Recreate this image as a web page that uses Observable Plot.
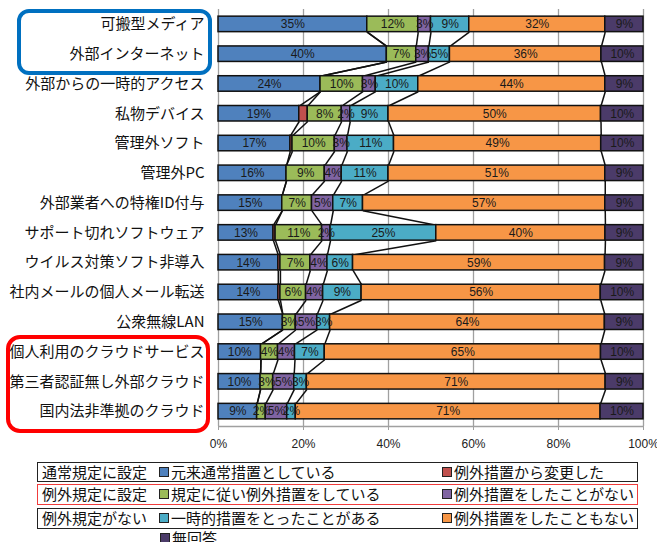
<!DOCTYPE html>
<html><head><meta charset="utf-8">
<script src="https://cdn.jsdelivr.net/npm/d3@7"></script>
<script src="https://cdn.jsdelivr.net/npm/@observablehq/plot@0.6"></script>
<style>
body{margin:0;background:#fff;font-family:"Noto Sans CJK JP",sans-serif;color:#111;}
#wrap{position:relative;width:657px;height:542px;overflow:hidden;}
#chart{position:absolute;left:0;top:0;}
.box{position:absolute;left:37px;width:601px;box-sizing:border-box;border:1.5px solid #222;font-size:15px;line-height:18px;}
.box span{position:absolute;top:0;white-space:nowrap;}
.sw{display:inline-block;width:8px;height:8px;border:1.3px solid #222;margin-right:2px;vertical-align:1px;}
.anno{position:absolute;box-sizing:border-box;background:transparent;}
</style></head><body>
<div id="wrap"><div id="chart"></div></div>
<script>
// ---- data ----
const categories = ["可搬型メディア","外部インターネット","外部からの一時的アクセス","私物デバイス","管理外ソフト","管理外PC","外部業者への特権ID付与","サポート切れソフトウェア","ウイルス対策ソフト非導入","社内メールの個人メール転送","公衆無線LAN","個人利用のクラウドサービス","第三者認証無し外部クラウド","国内法非準拠のクラウド"];
const seriesNames = ["元来通常措置としている","例外措置から変更した","規定に従い例外措置をしている","例外措置をしたことがない","一時的措置をとったことがある","例外措置をしたこともない","無回答"];
const seriesColors = ["#4F81BD","#C0504D","#9BBB59","#8064A2","#4BACC6","#F79646","#4B3B69"];
const original    = [35,40,24,19,17,16,15,13,14,14,15,10,10,9];
const changed     = [0,0,0,2,0.5,0,0,0.5,0.5,0.5,0,0,0,0];
const following   = [12,7,10,8,10,9,7,11,7,6,3,4,3,2];
const never       = [3,3,3,2,3,4,5,2,4,4,5,4,5,5];
const temporary   = [9,5,10,9,11,11,7,25,6,9,3,7,3,2];
const neverEither = [32,36,44,50,49,51,57,40,59,56,64,65,71,71];
const noAnswer    = [9,10,9,10,10,9,9,9,9,10,9,10,9,10];
const xTicks = [0,0.2,0.4,0.6,0.8,1];
const groupLabels = ["通常規定に設定","例外規定に設定","例外規定がない"];

// ---- build ----
const series = [original,changed,following,never,temporary,neverEither,noAnswer];
const segs = [];
const ends = []; // ends[i][k]
categories.forEach((c,i)=>{
  const total = d3.sum(series, s=>s[i]);
  let acc = 0; ends[i] = [];
  series.forEach((s,k)=>{
    const v = s[i];
    const x1 = acc/total; acc += v; const x2 = acc/total;
    ends[i][k] = x2;
    segs.push({i,k,v,x1,x2});
  });
});
const h = 0.26;
const links = [];
for (let k=0;k<6;k++) for (let i=0;i<categories.length-1;i++)
  links.push({k, x1: ends[i][k], y1: i+h, x2: ends[i+1][k], y2: i+1-h});

const chart = Plot.plot({
  width:657, height:458,
  marginLeft:218, marginRight:14, marginTop:9, marginBottom:32,
  style:{background:"transparent", overflow:"visible"},
  x:{domain:[0,1]},
  y:{domain:[categories.length-0.5,-0.5]},
  marks:[
    Plot.gridX(xTicks,{stroke:"#a0a0a0",strokeOpacity:1,strokeWidth:1.3}),
    Plot.ruleY([categories.length-0.5],{stroke:"#a0a0a0",strokeWidth:1.3}),
    Plot.axisX(xTicks,{tickFormat:d3.format(".0%"),tickSize:4,tickPadding:9,stroke:"#a0a0a0",fill:"#222",fontSize:12,fontFamily:"Liberation Sans"}),
    Plot.axisY(d3.range(categories.length),{tickFormat:i=>categories[i],tickSize:0,tickPadding:14,fill:"#111",fontSize:15,fontFamily:"Noto Sans CJK JP"}),
    Plot.link(links,{x1:"x1",y1:"y1",x2:"x2",y2:"y2",stroke:"#111",strokeWidth:1.5}),
    Plot.rectX(segs.filter(d=>d.v>0),{x1:"x1",x2:"x2",y1:d=>d.i-h,y2:d=>d.i+h,fill:d=>seriesColors[d.k],stroke:"#111",strokeWidth:1.5}),
    Plot.text(segs.filter(d=>d.v>=1 && d.k!==1),{x:d=>(d.x1+d.x2)/2,y:"i",text:d=>d.v+"%",fill:"#1a1a1a",fontSize:12,fontFamily:"Liberation Sans"})
  ]
});
document.getElementById("chart").appendChild(chart);

// ---- legend & annotations ----
const wrap = document.getElementById("wrap");
function sw(k){return `<i class="sw" style="background:${seriesColors[k]}"></i>${seriesNames[k]}`;}
const rows = [[0,1,"#222",462,20],[2,3,"#f03c3c",484,21],[4,5,"#222",508,21]];
rows.forEach((r,j)=>{
  const d = document.createElement("div");
  d.className="box";
  d.style.top=r[3]+"px"; d.style.height=r[4]+"px"; d.style.borderColor=r[2];
  if (j===1) d.style.borderWidth="1.2px";
  d.innerHTML = `<span style="left:4px">${groupLabels[j]}</span><span style="left:121px">${sw(r[0])}</span><span style="left:404px">${sw(r[1])}</span>`;
  wrap.appendChild(d);
});
const na = document.createElement("div");
na.style.cssText="position:absolute;left:160px;top:529px;font-size:15px;line-height:18px;white-space:nowrap;";
na.innerHTML = sw(6);
wrap.appendChild(na);
const a1 = document.createElement("div");
a1.className="anno"; a1.style.cssText+="left:17px;top:9px;width:195px;height:66px;border:4px solid #0070C0;border-radius:12px;";
wrap.appendChild(a1);
const a2 = document.createElement("div");
a2.className="anno"; a2.style.cssText+="left:6px;top:335px;width:204px;height:98px;border:4px solid #FF0000;border-radius:14px;";
wrap.appendChild(a2);
</script>
</body></html>
